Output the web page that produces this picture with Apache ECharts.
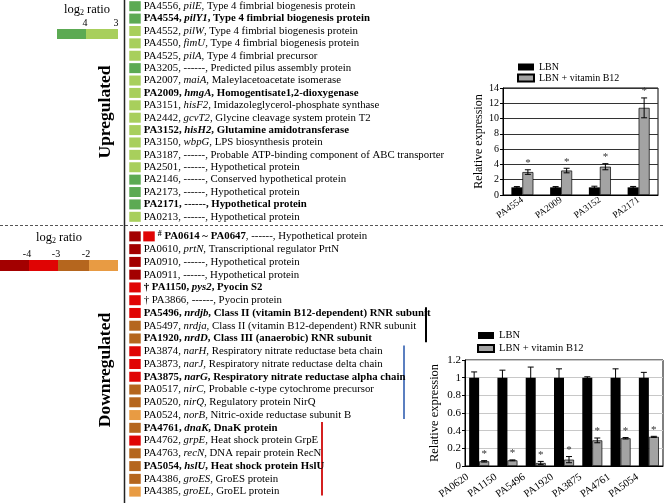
<!DOCTYPE html>
<html><head><meta charset="utf-8">
<script src="https://cdn.jsdelivr.net/npm/echarts@6/dist/echarts.min.js"></script>
<style>html,body{margin:0;padding:0;background:#fff}#c{width:664px;height:503px}</style>
</head><body><div id="c"></div>
<script>
// ---------- DATA ----------
const upIds = ['PA4556','PA4554','PA4552','PA4550','PA4525','PA3205','PA2007','PA2009','PA3151','PA2442','PA3152','PA3150','PA3187','PA2501','PA2146','PA2173','PA2171','PA0213'];
const upGenes = ['pilE','pilY1','pilW','fimU','pilA','------','maiA','hmgA','hisF2','gcvT2','hisH2','wbpG','------','------','------','------','------','------'];
const upDescs = ['Type 4 fimbrial biogenesis protein','Type 4 fimbrial biogenesis protein','Type 4 fimbrial biogenesis protein','Type 4 fimbrial biogenesis protein','Type 4 fimbrial precursor','Predicted pilus assembly protein','Maleylacetoacetate isomerase','Homogentisate1,2-dioxygenase','Imidazoleglycerol-phosphate synthase','Glycine cleavage system protein T2','Glutamine amidotransferase','LPS biosynthesis protein','Probable ATP-binding component of ABC transporter','Hypothetical protein','Conserved hypothetical protein','Hypothetical protein','Hypothetical protein','Hypothetical protein'];
const upLog2 = [4,4,3,3,3,4,3,3,3,3,3,3,3,3,4,4,4,3];
const upBold = [0,1,0,0,0,0,0,1,0,0,1,0,0,0,0,0,1,0];

const downIds = ['PA0614 ~ PA0647','PA0610','PA0910','PA0911','PA1150','PA3866','PA5496','PA5497','PA1920','PA3874','PA3873','PA3875','PA0517','PA0520','PA0524','PA4761','PA4762','PA4763','PA5054','PA4386','PA4385'];
const downPrefix = ['#','','','','†','†','','','','','','','','','','','','','','',''];
const downGenes = ['------','prtN','------','------','pys2','------','nrdjb','nrdja','nrdD','narH','narJ','narG','nirC','nirQ','norB','dnaK','grpE','recN','hslU','groES','groEL'];
const downDescs = ['Hypothetical protein','Transcriptional regulator PrtN','Hypothetical protein','Hypothetical protein','Pyocin S2','Pyocin protein','Class II (vitamin B12-dependent) RNR subunit','Class II (vitamin B12-dependent) RNR subunit','Class III (anaerobic) RNR subunit','Respiratory nitrate reductase beta chain','Respiratory nitrate reductase delta chain','Respiratory nitrate reductase alpha chain','Probable c-type cytochrome precursor','Regulatory protein NirQ','Nitric-oxide reductase subunit B','DnaK protein','Heat shock protein GrpE','DNA repair protein RecN','Heat shock protein HslU','GroES protein','GroEL protein'];
const downLog2 = [[-4,-3],[-4],[-4],[-4],[-3],[-3],[-3],[-2],[-2],[-3],[-3],[-3],[-2],[-2],[-1],[-2],[-3],[-2],[-2],[-2],[-1]];
const downBold = [2,0,0,0,1,0,1,0,1,0,0,1,0,0,0,1,0,0,1,0,0]; // 1 whole row bold, 2 id only

const bracketRows = [[0,6,8],[0,9,14],[0,15,20]];

const upLegendTicks = ['4','3'];
const downLegendTicks = ['-4','-3','-2'];

const upQCats = ['PA4554','PA2009','PA3152','PA2171'];
const upQLBN = [1,1,1,1];
const upQLBNErr = [0.1,0.1,0.15,0.12];
const upQB12 = [3.0,3.2,3.7,11.4];
const upQB12Err = [0.3,0.3,0.4,1.3];

const downQCats = ['PA0620','PA1150','PA5496','PA1920','PA3875','PA4761','PA5054'];
const downQLBN = [1,1,1,1,1,1,1];
const downQLBNErr = [0.065,0.085,0.12,0.1,0.01,0.1,0.06];
const downQB12 = [0.053,0.064,0.034,0.072,0.29,0.314,0.33];
const downQB12Err = [0.008,0.005,0.018,0.035,0.027,0.008,0.006];

// ---------- STYLE ----------
const F = 'Liberation Serif';
const colorOf = {4:'#5caa53',3:'#a8cf5c','-4':'#a30000','-3':'#e00404','-2':'#b5661e','-1':'#e89b43'};

function rowLabel(prefix, id, gene, desc, bold){
  const n = bold===1 ? 'bd' : 'nm';
  const it = bold===1 ? 'bi' : 'it';
  let s = '';
  if (prefix === '#') s += '{sp|#}{nm| }';
  else if (prefix) s += '{'+n+'|'+prefix+' }';
  s += '{'+(bold?'bd':'nm')+'|'+id+'}{'+n+'|, }';
  s += gene === '------' ? '{'+n+'|------}' : '{'+it+'|'+gene+'}';
  s += '{'+n+'|, '+desc+'}';
  return s;
}
const FS = 10.8;
const rich = {
  nm:{fontFamily:F,fontSize:FS,color:'#000'},
  bd:{fontFamily:F,fontSize:FS,color:'#000',fontWeight:'bold'},
  it:{fontFamily:F,fontSize:FS,color:'#000',fontStyle:'italic'},
  bi:{fontFamily:F,fontSize:FS,color:'#000',fontStyle:'italic',fontWeight:'bold'},
  sp:{fontFamily:F,fontSize:8,color:'#000',fontWeight:'bold',verticalAlign:'top',padding:[0,0,5,0]}
};

const upLabels = upIds.map((id,i)=>rowLabel('',id,upGenes[i],upDescs[i],upBold[i]));
const downLabels = downIds.map((id,i)=>rowLabel(downPrefix[i],id,downGenes[i],downDescs[i],downBold[i]));

const upCells = upLog2.map((v,i)=>({value:[0,i,v], itemStyle:{color:colorOf[v]}, label:{show:true, formatter:upLabels[i]}}));
const downCells = [];
downLog2.forEach((arr,i)=>arr.forEach((v,j)=>downCells.push({value:[j,i,v], itemStyle:{color:colorOf[v]}, label:{show:j===arr.length-1, formatter:downLabels[i]}})));

const listLabel = {position:'right', distance:3, rich:rich};

function errSeries(name, xi, yi, vals, errs, offset, star){
  return {
    type:'custom', name:name, xAxisIndex:xi, yAxisIndex:yi, z:10, silent:true,
    data: vals.map((v,i)=>[i,v,errs[i]]),
    renderItem:function(params, api){
      const i = api.value(0), v = api.value(1), e = api.value(2);
      const top = api.coord([i, v+e]); const bot = api.coord([i, v-e]);
      const x = top[0] + offset;
      const cw = 3;
      const children = [
        {type:'line', shape:{x1:x,y1:top[1],x2:x,y2:bot[1]}, style:{stroke:'#000',lineWidth:1}},
        {type:'line', shape:{x1:x-cw,y1:top[1],x2:x+cw,y2:top[1]}, style:{stroke:'#000',lineWidth:1}},
        {type:'line', shape:{x1:x-cw,y1:bot[1],x2:x+cw,y2:bot[1]}, style:{stroke:'#000',lineWidth:1}}
      ];
      if (star) children.push({type:'text', x:x, y:top[1]-1, style:{text:'*', fontFamily:F, fontSize:11, fill:'#333', align:'center', verticalAlign:'bottom'}});
      return {type:'group', children:children};
    }
  };
}

const chart = echarts.init(document.getElementById('c'), null, {renderer:'canvas'});
const barAxisLabel = {fontFamily:F, color:'#000'};
chart.setOption({
  animation:false,
  grid:[
    {left:128, top:0, width:28, height:223},
    {left:128, top:230, width:28, height:268},
    {left:503, top:88, width:155, height:107, show:true, borderColor:'#000', borderWidth:1},
    {left:465, top:360, width:198, height:106, show:true, borderColor:'#000', borderWidth:1}
  ],
  xAxis:[
    {type:'category', gridIndex:0, data:['c0','c1'], show:false},
    {type:'category', gridIndex:1, data:['c0','c1'], show:false},
    {type:'category', gridIndex:2, data:upQCats, axisTick:{show:false}, axisLine:{lineStyle:{color:'#000'}},
      axisLabel:{...barAxisLabel, fontSize:9.5, rotate:35, interval:0, margin:4}},
    {type:'category', gridIndex:3, data:downQCats, axisTick:{show:false}, axisLine:{lineStyle:{color:'#000'}},
      axisLabel:{...barAxisLabel, fontSize:10.5, rotate:35, interval:0, margin:2, padding:[0,14,0,0]}}
  ],
  yAxis:[
    {type:'category', gridIndex:0, data:upIds, inverse:true, show:false},
    {type:'category', gridIndex:1, data:downIds, inverse:true, show:false},
    {type:'value', gridIndex:2, min:0, max:14, interval:2, name:'Relative expression', nameLocation:'middle', nameGap:18,
      nameTextStyle:{fontFamily:F, fontSize:12, color:'#000'},
      axisLine:{show:true, lineStyle:{color:'#000'}}, axisTick:{show:true, length:3, lineStyle:{color:'#000'}},
      axisLabel:{...barAxisLabel, fontSize:10, margin:4}, splitLine:{lineStyle:{color:'#333'}}},
    {type:'value', gridIndex:3, min:0, max:1.2, interval:0.2, name:'Relative expression', nameLocation:'middle', nameGap:24,
      nameTextStyle:{fontFamily:F, fontSize:12.5, color:'#000'},
      axisLine:{show:true, lineStyle:{color:'#000'}}, axisTick:{show:true, length:3, lineStyle:{color:'#000'}},
      axisLabel:{...barAxisLabel, fontSize:11, margin:4, formatter:v=>String(parseFloat(v.toFixed(1)))},
      splitLine:{lineStyle:{color:'#c8c8c8'}}}
  ],
  legend:[
    {data:['LBN','LBN + vitamin B12'], orient:'vertical', left:512, top:57, itemWidth:16, itemHeight:7, itemGap:1,
      icon:'rect', textStyle:{fontFamily:F, fontSize:10, color:'#000'}, selectedMode:false},
    {data:['LBN','LBN + vitamin B12'], orient:'vertical', left:472, top:325, itemWidth:16, itemHeight:7, itemGap:2,
      icon:'rect', textStyle:{fontFamily:F, fontSize:10.5, color:'#000'}, selectedMode:false}
  ],
  series:[
    {type:'scatter', xAxisIndex:0, yAxisIndex:0, symbol:'rect', symbolSize:[11.5,10], data:upCells, label:listLabel, silent:true, itemStyle:{opacity:1}},
    {type:'scatter', xAxisIndex:1, yAxisIndex:1, symbol:'rect', symbolSize:[11.5,10], data:downCells, label:listLabel, silent:true, itemStyle:{opacity:1}},
    {type:'custom', xAxisIndex:1, yAxisIndex:1, silent:true, data:bracketRows, encode:{x:0, y:[1,2]},
      renderItem:function(params, api){
        const xs = [426, 404, 322];
        const cs = ['#000000', '#5b7fc0', '#d42020'];
        const k = params.dataIndex;
        const band = api.size([0,1])[1];
        const y1 = api.coord([0, api.value(1)])[1] - band*0.45;
        const y2 = api.coord([0, api.value(2)])[1] + band*0.3;
        return {type:'line', shape:{x1:xs[k], y1:y1, x2:xs[k], y2:y2}, style:{stroke:cs[k], lineWidth:2}};
      }},
    {type:'bar', name:'LBN', xAxisIndex:2, yAxisIndex:2, data:upQLBN, barWidth:11, barGap:'0%', itemStyle:{color:'#000'}},
    {type:'bar', name:'LBN + vitamin B12', xAxisIndex:2, yAxisIndex:2, data:upQB12, barWidth:11, barGap:'0%', itemStyle:{color:'#a3a3a3', borderColor:'#000', borderWidth:0.7}},
    errSeries('e1',2,2,upQLBN,upQLBNErr,-5.5,false),
    errSeries('e2',2,2,upQB12,upQB12Err,5.5,true),
    {type:'bar', name:'LBN', xAxisIndex:3, yAxisIndex:3, data:downQLBN, barWidth:10, barGap:'0%', itemStyle:{color:'#000'}},
    {type:'bar', name:'LBN + vitamin B12', xAxisIndex:3, yAxisIndex:3, data:downQB12, barWidth:10, barGap:'0%', itemStyle:{color:'#a3a3a3', borderColor:'#000', borderWidth:0.7}},
    errSeries('e3',3,3,downQLBN,downQLBNErr,-5,false),
    errSeries('e4',3,3,downQB12,downQB12Err,5,true)
  ],
  graphic:[
    {type:'line', shape:{x1:124.5,y1:0,x2:124.5,y2:503}, style:{stroke:'#222', lineWidth:1.5}},
    {type:'line', shape:{x1:0,y1:225.5,x2:664,y2:225.5}, style:{stroke:'#555', lineWidth:1, lineDash:[3,2]}},
    {type:'text', x:87, y:10, style:{text:'{a|log}{s|2}{a| ratio}', rich:{a:{fontFamily:F,fontSize:12.5,fill:'#000'}, s:{fontFamily:F,fontSize:8,fill:'#000',padding:[6,0,0,0]}}, align:'center', verticalAlign:'middle'}},
    {type:'text', x:85, y:23, style:{text:upLegendTicks[0], fontFamily:F, fontSize:10, fill:'#000', align:'center', verticalAlign:'middle'}},
    {type:'text', x:116, y:23, style:{text:upLegendTicks[1], fontFamily:F, fontSize:10, fill:'#000', align:'center', verticalAlign:'middle'}},
    {type:'rect', shape:{x:57,y:29,width:29,height:10}, style:{fill:colorOf[4]}},
    {type:'rect', shape:{x:86,y:29,width:32,height:10}, style:{fill:colorOf[3]}},
    {type:'text', x:59, y:238, style:{text:'{a|log}{s|2}{a| ratio}', rich:{a:{fontFamily:F,fontSize:12.5,fill:'#000'}, s:{fontFamily:F,fontSize:8,fill:'#000',padding:[6,0,0,0]}}, align:'center', verticalAlign:'middle'}},
    {type:'text', x:27, y:254, style:{text:downLegendTicks[0], fontFamily:F, fontSize:10, fill:'#000', align:'center', verticalAlign:'middle'}},
    {type:'text', x:56, y:254, style:{text:downLegendTicks[1], fontFamily:F, fontSize:10, fill:'#000', align:'center', verticalAlign:'middle'}},
    {type:'text', x:86, y:254, style:{text:downLegendTicks[2], fontFamily:F, fontSize:10, fill:'#000', align:'center', verticalAlign:'middle'}},
    {type:'rect', shape:{x:0,y:260,width:29,height:11}, style:{fill:colorOf[-4]}},
    {type:'rect', shape:{x:29,y:260,width:29,height:11}, style:{fill:colorOf[-3]}},
    {type:'rect', shape:{x:58,y:260,width:31,height:11}, style:{fill:colorOf[-2]}},
    {type:'rect', shape:{x:89,y:260,width:29,height:11}, style:{fill:colorOf[-1]}},
    {type:'text', x:105, y:112, rotation:Math.PI/2, style:{text:'Upregulated', fontFamily:F, fontSize:17.5, fontWeight:'bold', fill:'#000', align:'center', verticalAlign:'middle'}},
    {type:'text', x:105, y:370, rotation:Math.PI/2, style:{text:'Downregulated', fontFamily:F, fontSize:17.5, fontWeight:'bold', fill:'#000', align:'center', verticalAlign:'middle'}}
  ]
});
</script></body></html>
